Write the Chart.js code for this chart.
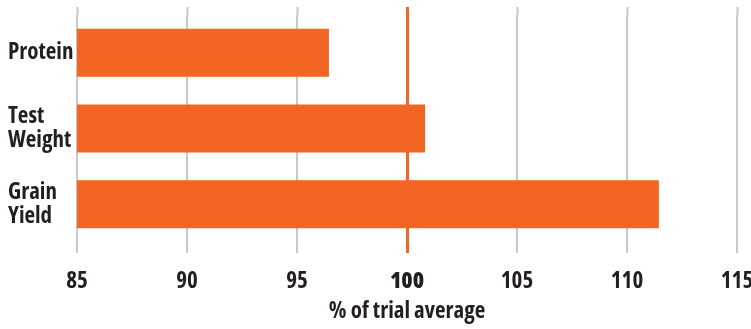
<!DOCTYPE html>
<html>
<head>
<meta charset="utf-8">
<script src="https://cdn.jsdelivr.net/npm/chart.js@4/dist/chart.umd.min.js"></script>
<style>
  html, body { margin: 0; padding: 0; background: #ffffff; }
  #wrap { width: 751px; height: 329px; position: relative; }
</style>
</head>
<body>
<div id="wrap"><canvas id="c"></canvas></div>
<script>
const categories = [["Protein"], ["Test", "Weight"], ["Grain", "Yield"]];
const values = [96.45, 100.82, 111.45];
const xTicks = [85, 90, 95, 100, 105, 110, 115];
const referenceValue = 100;
const axisTitle = "% of trial average";

const ORANGE = "#F26522";
const GRID = "#c8c8c8";
const TEXT = "#231f20";
const FONT = "'Open Sans', 'DejaVu Sans', sans-serif";

const isRef = (ctx) => ctx.tick && ctx.tick.value === referenceValue;
const gridColor = (ctx) => (isRef(ctx) ? ORANGE : GRID);
const gridWidth = (ctx) => (isRef(ctx) ? 3 : 2);

function draw() {
new Chart(document.getElementById("c"), {
  type: "bar",
  data: {
    labels: categories,
    datasets: [{
      data: values,
      backgroundColor: ORANGE,
      borderWidth: 0,
      barPercentage: 0.634,
      categoryPercentage: 1.0,
      xAxisID: "x",
      yAxisID: "y"
    }]
  },
  options: {
    indexAxis: "y",
    responsive: true,
    maintainAspectRatio: false,
    animation: false,
    layout: { padding: { top: 7, left: 8, right: 14, bottom: 3 } },
    plugins: { legend: { display: false }, tooltip: { enabled: false } },
    scales: {
      x: {
        type: "linear",
        position: "bottom",
        min: xTicks[0],
        max: xTicks[xTicks.length - 1],
        afterBuildTicks: (axis) => { axis.ticks = xTicks.map(v => ({ value: v })); },
        afterFit: (scale) => { scale.height = 84; scale.paddingLeft = 0; scale.paddingRight = 0; },
        grid: { color: gridColor, lineWidth: gridWidth, drawTicks: true, tickLength: 11, tickColor: gridColor, tickWidth: gridWidth },
        border: { display: false },
        ticks: {
          color: TEXT,
          padding: 15,
          maxRotation: 0,
          font: (ctx) => ({ family: FONT, size: 23, weight: isRef(ctx) ? "condensed 800" : "condensed 700" })
        },
        title: {
          display: true,
          text: axisTitle,
          color: TEXT,
          font: { family: FONT, size: 23, weight: "condensed 700" },
          padding: { top: 4, bottom: 1 }
        }
      },
      x2: {
        type: "linear",
        position: "top",
        min: xTicks[0],
        max: xTicks[xTicks.length - 1],
        afterBuildTicks: (axis) => { axis.ticks = xTicks.map(v => ({ value: v })); },
        afterFit: (scale) => { scale.height = 8; scale.paddingLeft = 0; scale.paddingRight = 0; },
        grid: { drawOnChartArea: false, drawTicks: true, tickLength: 8, tickColor: gridColor, tickWidth: gridWidth },
        border: { display: false },
        ticks: { display: false }
      },
      y: {
        type: "category",
        grid: { display: false, drawTicks: false },
        border: { display: false },
        afterFit: (scale) => { scale.width = 69; scale.paddingTop = 0; scale.paddingBottom = 0; },
        ticks: {
          color: TEXT,
          crossAlign: "far",
          padding: 4,
          font: { family: FONT, size: 23, weight: "condensed 700", lineHeight: 1.05 }
        }
      }
    }
  }
});
}
if (document.fonts && document.fonts.load) {
  Promise.all([
    document.fonts.load("condensed 700 23px 'Open Sans'"),
    document.fonts.load("condensed 800 23px 'Open Sans'")
  ]).then(draw, draw);
} else { draw(); }
</script>
</body>
</html>
